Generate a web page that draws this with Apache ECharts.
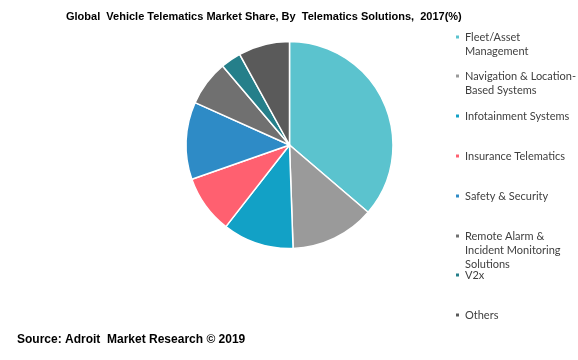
<!DOCTYPE html>
<html>
<head>
<meta charset="utf-8">
<script src="https://cdn.jsdelivr.net/npm/echarts@6/dist/echarts.min.js"></script>
<style>
html,body{margin:0;padding:0;background:#fff;}
#c{width:578px;height:360px;}
</style>
</head>
<body>
<div id="c"></div>
<script>
const categories = ["Fleet/Asset Management", "Navigation & Location-Based Systems", "Infotainment Systems", "Insurance Telematics", "Safety & Security", "Remote Alarm & Incident Monitoring Solutions", "V2x", "Others"];
const legendLabels = ["Fleet/Asset\nManagement", "Navigation & Location-\nBased Systems", "Infotainment Systems", "Insurance Telematics", "Safety & Security", "Remote Alarm &\nIncident Monitoring\nSolutions", "V2x", "Others"];
const shares = [36.3, 13.2, 11.1, 9.1, 12.1, 7.1, 3.2, 8.0];
const colors = ["#5BC3CE", "#9A9A9A", "#12A1C6", "#FF6070", "#2E8BC6", "#707070", "#257F8A", "#5A5A5A"];
const legendCenters = [37, 76, 116, 156, 196, 236, 275, 315];

const chart = echarts.init(document.getElementById('c'));
const LH = 14;
const legends = categories.map((name, i) => {
  const lines = legendLabels[i].split('\n');
  const extra = lines.length - 1;
  // blank lines above so the first text line is centred on the icon
  const label = '\n'.repeat(extra) + legendLabels[i];
  const top = legendCenters[i] - LH / 2 - extra * LH;
  return {
    orient: 'vertical',
    left: 454,
    top: top,
    padding: 0,
    icon: 'rect',
    itemWidth: 5,
    itemHeight: 5,
    selectedMode: false,
    data: [{ name: name }],
    formatter: () => label,
    textStyle: {
      fontFamily: 'Lato',
      fontSize: 11,
      color: '#404040',
      lineHeight: LH
    }
  };
});

chart.setOption({
  animation: false,
  color: colors,
  title: [{
    text: 'Global  Vehicle Telematics Market Share, By  Telematics Solutions,  2017(%)',
    left: 66,
    top: 11,
    padding: 0,
    textStyle: { fontFamily: 'Liberation Sans', fontSize: 11, fontWeight: 'bold', color: '#000' }
  }, {
    text: 'Source: Adroit  Market Research © 2019',
    left: 17,
    top: 334,
    padding: 0,
    textStyle: { fontFamily: 'Liberation Sans', fontSize: 12, fontWeight: 'bold', color: '#000' }
  }],
  legend: legends,
  series: [{
    type: 'pie',
    center: [289.5, 145],
    radius: [0, 103.5],
    startAngle: 90,
    clockwise: true,
    label: { show: false },
    labelLine: { show: false },
    emphasis: { disabled: true },
    itemStyle: { borderColor: '#fff', borderWidth: 1.5 },
    data: categories.map((n, i) => ({ name: n, value: shares[i] }))
  }]
});
</script>
</body>
</html>
